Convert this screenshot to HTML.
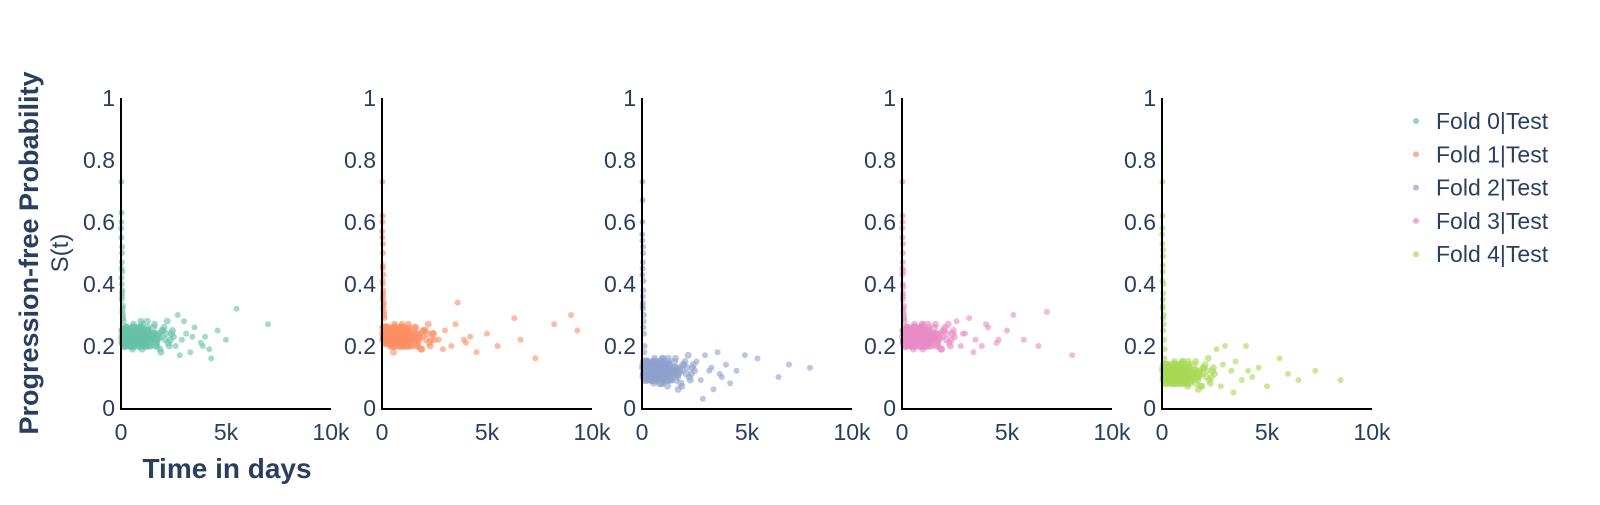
<!DOCTYPE html>
<html><head><meta charset="utf-8">
<style>
body{margin:0;background:#fff;}
svg text{font-family:"Liberation Sans",sans-serif;fill:#2a3f5f;}
</style></head>
<body>
<svg id="chart" width="1600" height="500" viewBox="0 0 1600 500" xmlns="http://www.w3.org/2000/svg">
<text transform="translate(38,253) rotate(-90)" text-anchor="middle" font-size="27" font-weight="bold">Progression-free Probability</text>
<text transform="translate(68,253) rotate(-90)" text-anchor="middle" font-size="24">S(t)</text>
<text x="227" y="478" text-anchor="middle" font-size="28" font-weight="bold">Time in days</text>
<g id="panels"></g>
<g id="legend"></g>
</svg>
<script>
const foldNames = ["Fold 0|Test","Fold 1|Test","Fold 2|Test","Fold 3|Test","Fold 4|Test"];
const foldColors = ["#66c2a5","#fc8d62","#8da0cb","#e78ac3","#a6d854"];
const xTickValues = [0,5,10];
const xTickLabels = ["0","5k","10k"];
const yTickValues = [0,0.2,0.4,0.6,0.8,1];
const yTickLabels = ["0","0.2","0.4","0.6","0.8","1"];
// x in thousands of days
const spikeDays = [0.02,0.03,0.01,0.05,0.04,0.02,0.06,0.03,0.08,0.1,0.12,0.05,0.07,0.09,0.04,0.11,0.02,0.03,0.04,0.06,0.02,0.05];
const fold0Spike = [0.73,0.63,0.58,0.52,0.47,0.42,0.38,0.35,0.32,0.3,0.28,0.5,0.44,0.33,0.4,0.29,0.55,0.45,0.37,0.31,0.6,0.36];
const fold1Spike = [0.73,0.62,0.57,0.53,0.46,0.41,0.38,0.35,0.33,0.31,0.29,0.5,0.43,0.34,0.4,0.3,0.55,0.45,0.37,0.32,0.6,0.36];
const fold2Spike = [0.73,0.67,0.56,0.52,0.47,0.43,0.38,0.33,0.28,0.24,0.2,0.5,0.41,0.3,0.36,0.18,0.54,0.45,0.34,0.26,0.6,0.32];
const fold3Spike = [0.73,0.62,0.58,0.53,0.47,0.43,0.39,0.35,0.32,0.3,0.28,0.5,0.44,0.33,0.4,0.29,0.55,0.45,0.37,0.31,0.6,0.36];
const fold4Spike = [0.73,0.62,0.56,0.51,0.46,0.41,0.37,0.32,0.27,0.22,0.19,0.49,0.4,0.3,0.35,0.16,0.53,0.44,0.33,0.25,0.58,0.29];
const clusterDays = [0.2,0.3,0.4,0.5,0.6,0.7,0.8,0.9,1.0,1.1,1.2,1.3,1.4,1.5,1.6,1.7,1.8,1.9,2.0,2.1,2.2,2.3,2.4,2.5,
 0.25,0.45,0.65,0.85,1.05,1.25,1.45,1.65,1.85,2.05,2.25,2.45,0.35,0.55,0.75,0.95,1.15,1.35,1.55,1.75,1.95,
 0.15,0.22,0.33,0.42,0.58,0.68,0.72,0.88,0.98,1.08,1.18,1.28,1.38,1.48,0.18,0.28,0.38,0.48,0.62,0.78,0.92,1.02,1.22,1.42,1.62,
 0.12,0.16,0.24,0.32,0.44,0.52,0.66,0.82,0.96,1.12,1.32,1.52,1.72,1.92,2.15,2.35];
const fold0Cluster = [0.22,0.25,0.2,0.24,0.27,0.21,0.23,0.26,0.19,0.24,0.22,0.25,0.2,0.23,0.27,0.21,0.24,0.18,0.25,0.22,0.28,0.2,0.24,0.23,
 0.26,0.21,0.23,0.25,0.2,0.28,0.22,0.24,0.19,0.26,0.21,0.25,0.24,0.19,0.22,0.28,0.23,0.2,0.26,0.22,0.25,
 0.21,0.24,0.23,0.2,0.26,0.22,0.25,0.21,0.24,0.23,0.2,0.26,0.22,0.24,0.25,0.22,0.2,0.23,0.21,0.24,0.22,0.27,0.21,0.23,0.2,
 0.23,0.2,0.22,0.25,0.22,0.24,0.2,0.22,0.25,0.21,0.24,0.22,0.2,0.23,0.24,0.22];
const fold1Cluster = [0.23,0.25,0.21,0.24,0.27,0.22,0.23,0.26,0.2,0.24,0.22,0.25,0.2,0.23,0.26,0.21,0.24,0.19,0.25,0.22,0.27,0.2,0.24,0.22,
 0.26,0.21,0.23,0.25,0.2,0.27,0.22,0.24,0.19,0.25,0.21,0.24,0.24,0.18,0.22,0.27,0.23,0.2,0.26,0.22,0.25,
 0.22,0.24,0.23,0.21,0.26,0.22,0.25,0.21,0.24,0.23,0.2,0.26,0.22,0.24,0.25,0.22,0.2,0.23,0.21,0.24,0.22,0.26,0.21,0.23,0.2,
 0.24,0.21,0.22,0.25,0.22,0.24,0.2,0.22,0.25,0.21,0.24,0.22,0.2,0.23,0.24,0.22];
const fold2Cluster = [0.12,0.14,0.1,0.13,0.16,0.09,0.12,0.15,0.08,0.13,0.11,0.14,0.09,0.12,0.16,0.1,0.13,0.07,0.14,0.11,0.17,0.09,0.13,0.12,
 0.15,0.1,0.12,0.14,0.09,0.16,0.11,0.13,0.08,0.15,0.1,0.14,0.13,0.08,0.11,0.16,0.12,0.09,0.15,0.11,0.14,
 0.11,0.13,0.12,0.09,0.15,0.11,0.14,0.1,0.13,0.12,0.09,0.15,0.11,0.13,0.14,0.11,0.09,0.12,0.1,0.13,0.11,0.16,0.07,0.12,0.09,
 0.13,0.1,0.11,0.14,0.11,0.13,0.09,0.11,0.14,0.1,0.13,0.11,0.06,0.12,0.13,0.11];
const fold3Cluster = [0.23,0.25,0.2,0.24,0.27,0.21,0.23,0.26,0.19,0.24,0.22,0.25,0.2,0.23,0.27,0.21,0.24,0.19,0.25,0.22,0.27,0.2,0.24,0.23,
 0.26,0.21,0.23,0.25,0.2,0.27,0.22,0.24,0.19,0.26,0.21,0.25,0.24,0.19,0.22,0.27,0.23,0.2,0.26,0.22,0.25,
 0.21,0.24,0.23,0.2,0.26,0.22,0.25,0.21,0.24,0.23,0.2,0.26,0.22,0.24,0.25,0.22,0.2,0.23,0.21,0.24,0.22,0.27,0.21,0.23,0.2,
 0.23,0.2,0.22,0.25,0.22,0.24,0.2,0.22,0.25,0.21,0.24,0.22,0.2,0.23,0.24,0.22];
const fold4Cluster = [0.11,0.13,0.09,0.12,0.15,0.08,0.11,0.14,0.08,0.12,0.1,0.13,0.09,0.11,0.15,0.09,0.12,0.07,0.13,0.1,0.16,0.08,0.12,0.11,
 0.14,0.09,0.11,0.13,0.08,0.15,0.1,0.12,0.07,0.14,0.09,0.13,0.12,0.08,0.1,0.15,0.11,0.08,0.14,0.1,0.13,
 0.1,0.12,0.11,0.08,0.14,0.1,0.13,0.09,0.12,0.11,0.08,0.14,0.1,0.12,0.13,0.1,0.08,0.11,0.09,0.12,0.1,0.15,0.07,0.11,0.08,
 0.12,0.09,0.1,0.13,0.1,0.12,0.08,0.1,0.13,0.09,0.12,0.1,0.06,0.11,0.12,0.1];
// dense core near the origin
const coreDays = [0.05,0.08,0.1,0.13,0.17,0.21,0.26,0.31,0.36,0.41,0.46,0.51,0.56,0.61,0.66,0.71,0.76,0.81,0.86,0.91,0.96,1.01,1.06,1.11,1.16,
 0.06,0.09,0.14,0.19,0.23,0.29,0.34,0.39,0.43,0.49,0.54,0.59,0.64,0.69,0.74,0.79,0.84,0.89,0.94,0.99,1.04,1.09,1.14,1.19,1.24,
 0.07,0.11,0.15,0.2,0.27,0.37,0.47,0.57,0.67,0.77,0.87,0.97,1.07,1.17,1.27,1.37,1.47,1.57,1.67,1.77];
const fold0Core = [0.23,0.21,0.25,0.22,0.24,0.2,0.26,0.23,0.21,0.25,0.22,0.24,0.2,0.26,0.23,0.21,0.25,0.22,0.24,0.2,0.26,0.23,0.21,0.25,0.22,
 0.25,0.22,0.2,0.26,0.23,0.21,0.25,0.22,0.24,0.2,0.26,0.23,0.21,0.25,0.22,0.24,0.2,0.26,0.23,0.21,0.25,0.22,0.24,0.2,0.23,
 0.21,0.24,0.22,0.23,0.25,0.21,0.23,0.24,0.22,0.23,0.21,0.24,0.22,0.23,0.25,0.21,0.23,0.24,0.22,0.23];
const fold1Core = [0.24,0.22,0.26,0.23,0.25,0.21,0.26,0.23,0.21,0.25,0.22,0.24,0.2,0.26,0.23,0.21,0.25,0.22,0.24,0.2,0.26,0.23,0.21,0.25,0.22,
 0.26,0.23,0.21,0.26,0.23,0.21,0.25,0.22,0.24,0.2,0.26,0.23,0.21,0.25,0.22,0.24,0.2,0.26,0.23,0.21,0.25,0.22,0.24,0.2,0.23,
 0.22,0.25,0.23,0.24,0.25,0.21,0.23,0.24,0.22,0.23,0.21,0.24,0.22,0.23,0.25,0.21,0.23,0.24,0.22,0.23];
const fold2Core = [0.13,0.11,0.15,0.12,0.14,0.09,0.15,0.12,0.1,0.14,0.11,0.13,0.09,0.15,0.12,0.1,0.14,0.11,0.13,0.08,0.15,0.12,0.1,0.14,0.11,
 0.14,0.11,0.09,0.15,0.12,0.1,0.14,0.11,0.13,0.09,0.15,0.12,0.1,0.14,0.11,0.13,0.08,0.15,0.12,0.1,0.14,0.11,0.13,0.09,0.12,
 0.1,0.13,0.11,0.12,0.14,0.1,0.12,0.13,0.11,0.12,0.1,0.13,0.11,0.12,0.14,0.1,0.12,0.13,0.11,0.12];
const fold3Core = [0.23,0.21,0.25,0.22,0.24,0.2,0.26,0.23,0.21,0.25,0.22,0.24,0.2,0.26,0.23,0.21,0.25,0.22,0.24,0.2,0.26,0.23,0.21,0.25,0.22,
 0.25,0.22,0.2,0.26,0.23,0.21,0.25,0.22,0.24,0.2,0.26,0.23,0.21,0.25,0.22,0.24,0.2,0.26,0.23,0.21,0.25,0.22,0.24,0.2,0.23,
 0.21,0.24,0.22,0.23,0.25,0.21,0.23,0.24,0.22,0.23,0.21,0.24,0.22,0.23,0.25,0.21,0.23,0.24,0.22,0.23];
const fold4Core = [0.12,0.1,0.14,0.11,0.13,0.08,0.14,0.11,0.09,0.13,0.1,0.12,0.08,0.14,0.11,0.09,0.13,0.1,0.12,0.08,0.14,0.11,0.09,0.13,0.1,
 0.13,0.1,0.08,0.14,0.11,0.09,0.13,0.1,0.12,0.08,0.14,0.11,0.09,0.13,0.1,0.12,0.08,0.14,0.11,0.09,0.13,0.1,0.12,0.08,0.11,
 0.09,0.12,0.1,0.11,0.13,0.09,0.11,0.12,0.1,0.11,0.09,0.12,0.1,0.11,0.13,0.09,0.11,0.12,0.1,0.11];
const fold0TailDays = [2.7,2.9,3.1,3.3,3.5,3.8,4.0,4.3,4.6,5.0,5.5,7.0,2.6,3.0,4.2,2.8,3.4,3.9];
const fold0TailSurv = [0.3,0.22,0.24,0.18,0.26,0.21,0.23,0.16,0.25,0.22,0.32,0.27,0.2,0.28,0.19,0.17,0.23,0.2];
const fold1TailDays = [2.7,3.0,3.3,3.6,3.9,4.2,4.5,5.0,5.5,6.3,6.6,7.3,8.2,9.0,9.3,2.9,3.5,4.0];
const fold1TailSurv = [0.22,0.25,0.2,0.34,0.22,0.23,0.18,0.24,0.2,0.29,0.22,0.16,0.27,0.3,0.25,0.19,0.27,0.21];
const fold2TailDays = [2.6,2.8,3.0,3.2,3.4,3.6,3.8,4.0,4.2,4.5,4.9,5.5,6.5,7.0,8.0,2.9,3.3,3.7];
const fold2TailSurv = [0.15,0.09,0.17,0.12,0.06,0.18,0.1,0.14,0.08,0.12,0.17,0.16,0.1,0.14,0.13,0.03,0.13,0.11];
const fold3TailDays = [2.6,2.8,3.0,3.2,3.5,3.8,4.1,4.5,5.0,5.3,5.8,6.5,6.9,8.1,2.9,3.4,4.0,4.6];
const fold3TailSurv = [0.28,0.2,0.24,0.29,0.22,0.2,0.26,0.21,0.25,0.3,0.22,0.2,0.31,0.17,0.24,0.18,0.27,0.22];
const fold4TailDays = [2.6,2.8,3.0,3.3,3.5,3.8,4.0,4.3,4.6,5.0,5.6,6.0,6.5,7.3,8.5,2.9,3.4,4.1];
const fold4TailSurv = [0.19,0.07,0.2,0.12,0.15,0.09,0.2,0.1,0.13,0.07,0.16,0.11,0.09,0.12,0.09,0.14,0.05,0.12];

const spikes = [fold0Spike,fold1Spike,fold2Spike,fold3Spike,fold4Spike];
const clusters = [fold0Cluster,fold1Cluster,fold2Cluster,fold3Cluster,fold4Cluster];
const cores = [fold0Core,fold1Core,fold2Core,fold3Core,fold4Core];
const tailDays = [fold0TailDays,fold1TailDays,fold2TailDays,fold3TailDays,fold4TailDays];
const tailSurv = [fold0TailSurv,fold1TailSurv,fold2TailSurv,fold3TailSurv,fold4TailSurv];

const NS = "http://www.w3.org/2000/svg";
const panels = document.getElementById("panels");
const x0s = [121,382,642,902,1162], pw = 210, yTop = 98, yBot = 408;
function mk(tag, attrs, parent){const e=document.createElementNS(NS,tag);for(const k in attrs)e.setAttribute(k,attrs[k]);parent.appendChild(e);return e;}
for(let f=0;f<5;f++){
  const X = v => x0s[f] + v/10*pw;
  const Y = v => yBot - v*(yBot-yTop);
  const g = mk("g",{},panels);
  
  
  const pts = mk("g",{fill:foldColors[f],"fill-opacity":"0.6"},g);
  
  
  const add=(xs,ys,r)=>{const n=Math.min(xs.length,ys.length);for(let i=0;i<n;i++){const c=mk("circle",{cx:X(xs[i]),cy:Y(ys[i]),r:r},pts);
    
    }};
  add(spikeDays,spikes[f],3); add(coreDays,cores[f],4); add(clusterDays,clusters[f],3.5); add(tailDays[f],tailSurv[f],3);
  const ax = mk("line",{x1:x0s[f],x2:x0s[f]+pw,y1:yBot+1,y2:yBot+1,stroke:"#000","stroke-width":2},g);
  
  
  const ay = mk("line",{x1:x0s[f],x2:x0s[f],y1:yTop,y2:yBot+2,stroke:"#000","stroke-width":2},g);
  
  
  xTickValues.forEach((v,i)=>{const t=mk("text",{x:X(v),y:440,"text-anchor":"middle","font-size":23},g);t.textContent=xTickLabels[i];
    
    });
  yTickValues.forEach((v,i)=>{const t=mk("text",{x:x0s[f]-6,y:Y(v)+8,"text-anchor":"end","font-size":23},g);t.textContent=yTickLabels[i];
    
    });
}
const lg = document.getElementById("legend");
foldNames.forEach((n,i)=>{
  const y = 121 + i*33.3;
  const item = mk("g",{},lg);
  
  
  mk("circle",{cx:1416,cy:y,r:3,fill:foldColors[i],"fill-opacity":"0.7"},item);
  const t = mk("text",{x:1436,y:y+8,"font-size":23},item); t.textContent=n;
});
</script>
</body></html>
